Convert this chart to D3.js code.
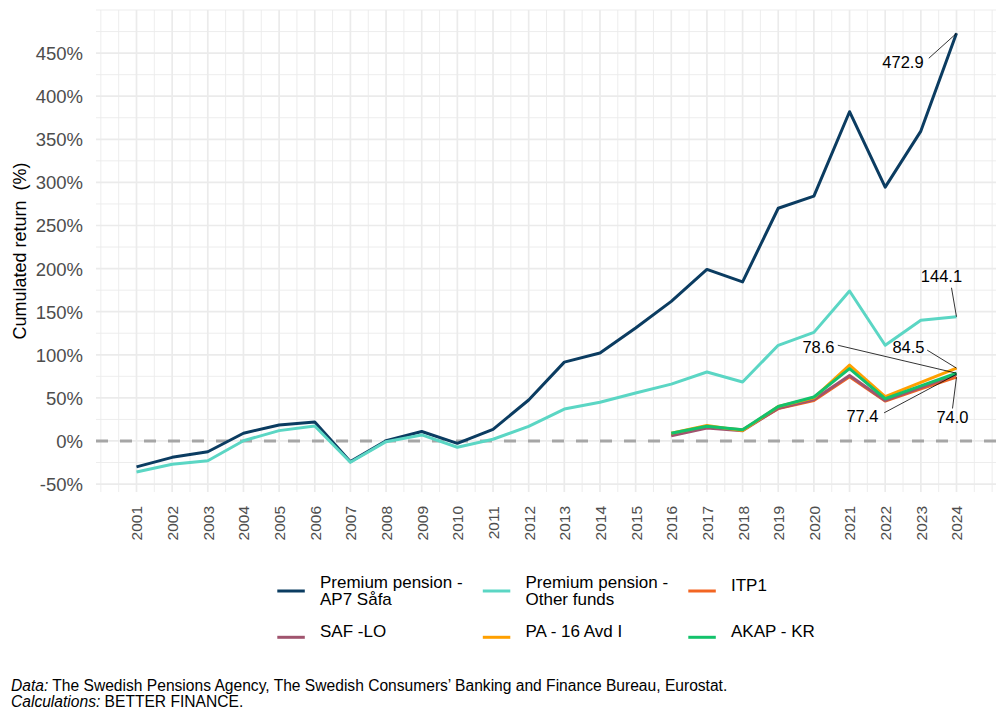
<!DOCTYPE html>
<html>
<head>
<meta charset="utf-8">
<script src="https://cdn.jsdelivr.net/npm/d3@7"></script>
<style>
  body { margin: 0; background: #fff; }
  text { font-family: "Liberation Sans", Arial, sans-serif; }
</style>
</head>
<body>
<div id="chart"></div>
<script>
// years and series (cumulated return, %)
var years = d3.range(2001, 2025);
var yearsOcc = d3.range(2016, 2025);

var ap7 = [-30, -19, -12.5, 9, 18.5, 22, -24, 0.3, 11, -2.7, 13.5, 47.5, 91.5, 102, 131, 162, 199, 184.5, 270, 284, 382, 294.5, 359.5, 472.9];
var otherFunds = [-36, -27, -23, 0.3, 12, 17.4, -24.7, -0.8, 7, -7.3, 2, 17, 37, 45, 55.7, 66, 80, 68.5, 111, 126, 174, 111, 140, 144.1];
var itp1 = [7, 16, 13, 37.5, 47, 74.6, 46.4, 60.5, 74.0];
var safLo = [6, 15, 12, 38, 48, 76, 47, 62, 77.4];
var pa16 = [9, 18, 12, 40, 50, 88, 51.4, 68, 84.5];
var akap = [9, 17, 13, 40, 51, 84, 49, 64, 78.6];

var yTicks = [-50, 0, 50, 100, 150, 200, 250, 300, 350, 400, 450];

var series = [
  {name: ["Premium pension -", "AP7 Såfa"], years: years, values: ap7, color: "#0B3C61"},
  {name: ["Premium pension -", "Other funds"], years: years, values: otherFunds, color: "#5BD6C4"},
  {name: ["ITP1"], years: yearsOcc, values: itp1, color: "#F26522"},
  {name: ["SAF -LO"], years: yearsOcc, values: safLo, color: "#A0546E"},
  {name: ["PA - 16 Avd I"], years: yearsOcc, values: pa16, color: "#FFA000"},
  {name: ["AKAP - KR"], years: yearsOcc, values: akap, color: "#13C26B"}
];

// end labels: series index, text offset from point, segment start offset from text
var endLabels = [
  {s: 0, dx: -53.5, dy: 28.6, sx: 25.8, sy: -3.7},
  {s: 1, dx: -15, dy: -41, sx: 10, sy: 12},
  {s: 4, dx: -48, dy: -21, sx: 18.7, sy: 3},
  {s: 5, dx: -138, dy: -26, sx: 19.3, sy: -2},
  {s: 3, dx: -94, dy: 42, sx: 21.6, sy: -3.4},
  {s: 2, dx: -4, dy: 40, sx: 0, sy: -8.7}
];

var width = 1008, height = 720;
var panel = {left: 96, right: 996, top: 10, bottom: 492};

var svg = d3.select("#chart")
  .append("svg")
    .attr("width", width)
    .attr("height", height);

svg.append("rect")
  .attr("width", width)
  .attr("height", height)
  .attr("fill", "#fff");

var x = d3.scaleLinear()
  .domain([1999.864, 2025.108])
  .range([panel.left, panel.right]);

var y = d3.scaleLinear()
  .domain([-59.2, 500])
  .range([panel.bottom, panel.top]);

// grid
var grid = svg.append("g");
var xMinor = d3.range(2000, 2025.2, 0.5).filter(function(d) { return d % 1 !== 0 || d < 2001 || d > 2024; });
var yMinor = d3.range(-25, 501, 50).concat([500]);

grid.selectAll(".xminor")
  .data(xMinor).enter()
  .append("line")
    .attr("x1", function(d) { return x(d); })
    .attr("x2", function(d) { return x(d); })
    .attr("y1", panel.top)
    .attr("y2", panel.bottom)
    .style("stroke", "#EBEBEB")
    .style("stroke-width", 0.9);

grid.selectAll(".yminor")
  .data(yMinor).enter()
  .append("line")
    .attr("x1", panel.left)
    .attr("x2", panel.right)
    .attr("y1", function(d) { return y(d); })
    .attr("y2", function(d) { return y(d); })
    .style("stroke", "#EBEBEB")
    .style("stroke-width", 0.9);

grid.selectAll(".xmajor")
  .data(years).enter()
  .append("line")
    .attr("x1", function(d) { return x(d); })
    .attr("x2", function(d) { return x(d); })
    .attr("y1", panel.top)
    .attr("y2", panel.bottom)
    .style("stroke", "#EBEBEB")
    .style("stroke-width", 1.7);

grid.selectAll(".ymajor")
  .data(yTicks).enter()
  .append("line")
    .attr("x1", panel.left)
    .attr("x2", panel.right)
    .attr("y1", function(d) { return y(d); })
    .attr("y2", function(d) { return y(d); })
    .style("stroke", "#EBEBEB")
    .style("stroke-width", 1.7);

// axes
var yAxis = svg.append("g")
  .attr("transform", "translate(" + (panel.left - 13) + ",0)")
  .call(d3.axisLeft(y).tickValues(yTicks).tickSize(0).tickPadding(0)
    .tickFormat(function(d) { return d + "%"; }));
yAxis.select(".domain").remove();
yAxis.selectAll("text")
  .attr("dy", "0.35em")
  .style("font-size", "18.5px")
  .style("fill", "#4D4D4D");

var xAxis = svg.append("g")
  .attr("transform", "translate(0,506)")
  .call(d3.axisBottom(x).tickValues(years).tickSize(0).tickPadding(0)
    .tickFormat(d3.format("d")));
xAxis.select(".domain").remove();
xAxis.selectAll("text")
  .attr("transform", "rotate(-90)")
  .attr("x", 0)
  .attr("y", 0)
  .attr("dy", "0.35em")
  .style("text-anchor", "end")
  .style("font-size", "15.5px")
  .style("fill", "#4D4D4D");

svg.append("text")
  .attr("transform", "translate(26," + ((panel.top + panel.bottom) / 2) + ") rotate(-90)")
  .style("text-anchor", "middle")
  .style("font-size", "18px")
  .style("white-space", "pre")
  .style("fill", "#000")
  .text("Cumulated return\u00A0 (%)");

// zero line
svg.append("line")
  .attr("x1", panel.left)
  .attr("x2", panel.right)
  .attr("y1", y(0))
  .attr("y2", y(0))
  .style("stroke", "#A6A6A6")
  .style("stroke-width", 3)
  .style("stroke-dasharray", "12,12");

// lines
var line = d3.line()
  .x(function(d) { return x(d[0]); })
  .y(function(d) { return y(d[1]); });

svg.selectAll(".series")
  .data(series).enter()
  .append("path")
    .attr("d", function(d) { return line(d3.zip(d.years, d.values)); })
    .style("fill", "none")
    .style("stroke", function(d) { return d.color; })
    .style("stroke-width", 3)
    .style("stroke-linejoin", "round");

// end labels
var lab = svg.selectAll(".endlabel")
  .data(endLabels).enter()
  .append("g");

lab.append("line")
  .attr("x1", function(d) { return x(2024) + d.dx + d.sx; })
  .attr("y1", function(d) { var v = series[d.s].values; return y(v[v.length - 1]) + d.dy + d.sy; })
  .attr("x2", x(2024))
  .attr("y2", function(d) { var v = series[d.s].values; return y(v[v.length - 1]); })
  .style("stroke", "#000")
  .style("stroke-width", 0.8);

lab.append("text")
  .attr("x", function(d) { return x(2024) + d.dx; })
  .attr("y", function(d) { var v = series[d.s].values; return y(v[v.length - 1]) + d.dy; })
  .attr("dy", "0.36em")
  .style("text-anchor", "middle")
  .style("font-size", "16.5px")
  .style("fill", "#000")
  .text(function(d) { var v = series[d.s].values; return d3.format(".1f")(v[v.length - 1]); });

// legend
var legend = svg.append("g");
var item = legend.selectAll(".item")
  .data(series).enter()
  .append("g")
    .attr("transform", function(d, i) {
      return "translate(" + (277.3 + (i % 3) * 205.5) + "," + (591 + Math.floor(i / 3) * 46.3) + ")";
    });

item.append("line")
  .attr("x1", 0)
  .attr("x2", 27.5)
  .style("stroke", function(d) { return d.color; })
  .style("stroke-width", 3);

item.append("text")
  .attr("x", 42.7)
  .attr("y", function(d) { return d.name.length > 1 ? -3.3 : 0; })
  .attr("dy", function(d) { return d.name.length > 1 ? 0 : "0.35em"; })
  .style("font-size", "17px")
  .style("fill", "#000")
  .selectAll("tspan")
  .data(function(d) { return d.name; }).enter()
  .append("tspan")
    .attr("x", 42.7)
    .attr("dy", function(d, i) { return i === 0 ? 0 : 17.3; })
    .text(function(d) { return d; });

// caption
var cap = svg.append("text")
  .attr("x", 11)
  .attr("y", 691)
  .style("font-size", "15.6px")
  .style("fill", "#000");
cap.append("tspan").style("font-style", "italic").text("Data:");
cap.append("tspan").text(" The Swedish Pensions Agency, The Swedish Consumers\u2019 Banking and Finance Bureau, Eurostat.");

var cap2 = svg.append("text")
  .attr("x", 11)
  .attr("y", 707)
  .style("font-size", "15.6px")
  .style("fill", "#000");
cap2.append("tspan").style("font-style", "italic").text("Calculations:");
cap2.append("tspan").text(" BETTER FINANCE.");
</script>
</body>
</html>
